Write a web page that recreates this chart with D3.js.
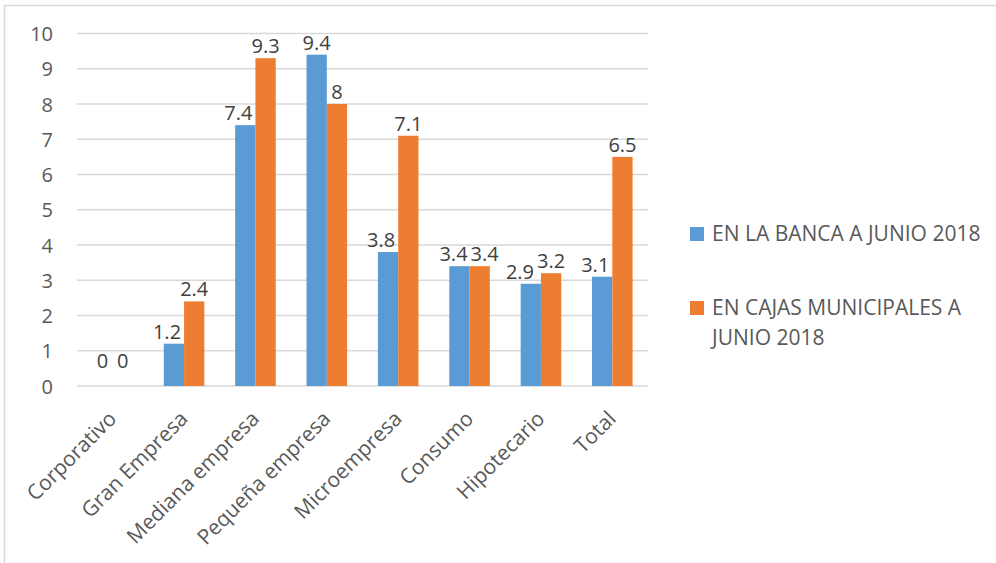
<!DOCTYPE html>
<html><head><meta charset="utf-8">
<script src="https://cdn.jsdelivr.net/npm/d3@7"></script>
<style>html,body{margin:0;padding:0;background:#fff;}svg{display:block;}</style>
</head><body>
<svg id="chart" width="996" height="563"></svg>
<script>
const categories = ["Corporativo","Gran Empresa","Mediana empresa","Pequeña empresa","Microempresa","Consumo","Hipotecario","Total"];
const seriesNames = ["EN LA BANCA A JUNIO 2018","EN CAJAS MUNICIPALES A JUNIO 2018"];
const banca = [0,1.2,7.4,9.4,3.8,3.4,2.9,3.1];
const cajas = [0,2.4,9.3,8,7.1,3.4,3.2,6.5];
const yTicks = [0,1,2,3,4,5,6,7,8,9,10];
const colors = ["#5B9BD5","#ED7D31"];

const FONT = "'Open Sans', sans-serif";
const svg = d3.select("#chart");
svg.append("rect").attr("x",4.5).attr("y",5.5).attr("width",1000).attr("height",600)
  .attr("fill","#fff").attr("stroke","#D9D9D9").attr("stroke-width",1.5);

const pLeft = 77, pRight = 648, pTop = 33.5, pBottom = 386;
const y = d3.scaleLinear().domain([0,10]).range([pBottom, pTop]);
const x0 = d3.scaleBand().domain(categories).range([pLeft, pRight]).padding(0);
const x1 = d3.scaleBand().domain([0,1]).range([0, x0.bandwidth()]).paddingInner(0).paddingOuter(0.76);

// gridlines
svg.append("g").selectAll("line").data(yTicks).join("line")
  .attr("x1", pLeft).attr("x2", pRight)
  .attr("y1", d => y(d)).attr("y2", d => y(d))
  .attr("stroke", "#D9D9D9").attr("stroke-width", 1.5);

// y axis labels
const yAxis = d3.axisLeft(y).tickValues(yTicks).tickSize(0).tickPadding(0).tickFormat(d3.format("d"));
const ya = svg.append("g").attr("transform", `translate(${pLeft-24},0)`).call(yAxis);
ya.select(".domain").remove();
ya.selectAll("text").attr("font-family", FONT).attr("font-size", 20).attr("fill", "#595959").attr("dy","0.35em");

// bars
const data = categories.map((c,i) => ({cat:c, vals:[banca[i], cajas[i]]}));
const groups = svg.append("g").selectAll("g").data(data).join("g")
  .attr("transform", d => `translate(${x0(d.cat)},0)`);
groups.selectAll("rect").data(d => d.vals.map((v,k)=>({v,k}))).join("rect")
  .attr("x", d => x1(d.k)).attr("width", x1.bandwidth())
  .attr("y", d => y(d.v)).attr("height", d => pBottom - y(d.v))
  .attr("fill", d => colors[d.k]);

// data labels with simple collision avoidance
groups.each(function(d) {
  const g = d3.select(this);
  const labs = d.vals.map((v,k) => {
    const t = g.append("text")
      .attr("text-anchor","middle")
      .attr("font-family", FONT).attr("font-size", 20).attr("fill", "#404040")
      .text(v);
    return {t, v, k, cx: x1(k) + x1.bandwidth()/2, y: y(v) - 5 - (v === 0 ? 13 : 0), w: t.node().getComputedTextLength()};
  });
  const b = labs[0], o = labs[1];
  const xo = x1(1), yo = y(o.v);
  if (b.y > yo + 2 && b.cx + b.w/2 > xo - 3) { b.cx = xo - 3 - b.w/2; b.moved = true; }
  if (Math.abs(b.y - o.y) < 16 && b.cx + b.w/2 + 3 > o.cx - o.w/2) {
    if (b.moved) b.cx = o.cx - o.w/2 - 3 - b.w/2;
    else { b.cx = xo - 2 - b.w/2; o.cx = xo + 1 + o.w/2; }
  }
  labs.forEach(l => l.t.attr("x", l.cx).attr("y", l.y));
});

// x axis labels
const xAxis = d3.axisBottom(x0).tickSize(0).tickPadding(0);
const xa = svg.append("g").attr("transform", `translate(0,${pBottom})`).call(xAxis);
xa.select(".domain").remove();
xa.selectAll("text")
  .attr("font-family", FONT).attr("font-size", 21).attr("fill", "#595959")
  .attr("text-anchor","end").attr("dy", null).attr("y", 0)
  .attr("transform", "translate(5,34) rotate(-45)");

// legend
const legend = svg.append("g");
const legendItems = [
  {lines:["EN LA BANCA A JUNIO 2018"], y:227},
  {lines:["EN CAJAS MUNICIPALES A","JUNIO 2018"], y:301}
];
legendItems.forEach((it,i) => {
  legend.append("rect").attr("x",690).attr("y",it.y).attr("width",14).attr("height",14).attr("fill",colors[i]);
  const t = legend.append("text").attr("font-family", FONT).attr("font-size", 21).attr("fill","#595959");
  it.lines.forEach((ln,j) => {
    t.append("tspan").attr("x",712).attr("y", it.y + 13.5 + j*30.5).text(ln);
  });
});
</script>
</body></html>
